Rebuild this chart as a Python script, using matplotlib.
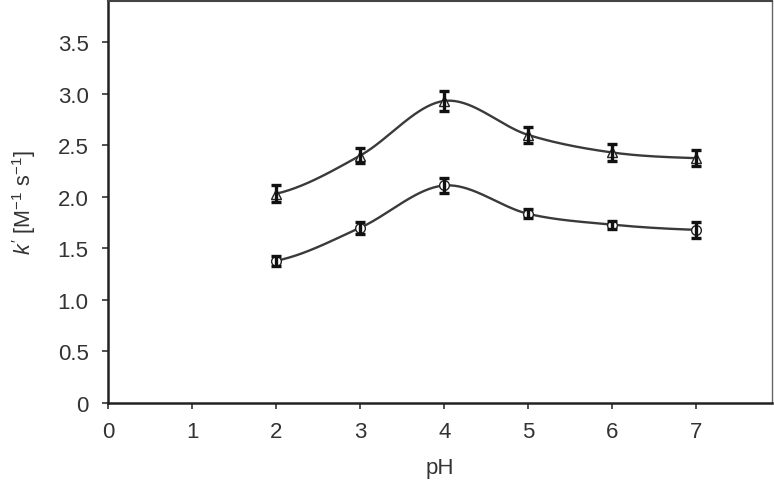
import numpy as np
import matplotlib
matplotlib.use("Agg")
import matplotlib.pyplot as plt

# data
ph = [2, 3, 4, 5, 6, 7]
k_triangle = [2.03, 2.40, 2.93, 2.60, 2.43, 2.375]
err_triangle = [0.085, 0.07, 0.095, 0.075, 0.08, 0.08]
k_circle = [1.38, 1.70, 2.11, 1.835, 1.73, 1.68]
err_circle = [0.05, 0.06, 0.07, 0.045, 0.04, 0.08]

x_ticks = [0, 1, 2, 3, 4, 5, 6, 7]
y_ticks = [0, 0.5, 1.0, 1.5, 2.0, 2.5, 3.0, 3.5]
y_ticklabels = ["0", "0.5", "1.0", "1.5", "2.0", "2.5", "3.0", "3.5"]


def smooth_line(x, y, n=40):
    # catmull-rom style smoothing (like a spreadsheet "smoothed line")
    x = np.asarray(x, float)
    y = np.asarray(y, float)
    m = len(x)
    t = np.zeros(m)
    for i in range(m):
        lo = max(i - 1, 0)
        hi = min(i + 1, m - 1)
        t[i] = (y[hi] - y[lo]) / 2.0
    xs_all, ys_all = [], []
    for i in range(m - 1):
        s = np.linspace(0, 1, n)
        h00 = 2 * s ** 3 - 3 * s ** 2 + 1
        h10 = s ** 3 - 2 * s ** 2 + s
        h01 = -2 * s ** 3 + 3 * s ** 2
        h11 = s ** 3 - s ** 2
        xs_all.append(x[i] + s * (x[i + 1] - x[i]))
        ys_all.append(h00 * y[i] + h10 * t[i] + h01 * y[i + 1] + h11 * t[i + 1])
    return np.concatenate(xs_all), np.concatenate(ys_all)


plt.rcParams["font.family"] = ["Liberation Sans", "DejaVu Sans"]
plt.rcParams["mathtext.fontset"] = "custom"
plt.rcParams["mathtext.rm"] = "Liberation Sans"
plt.rcParams["mathtext.it"] = "Liberation Sans:italic"

fig = plt.figure(figsize=(7.74, 4.81), dpi=100)
ax = fig.add_axes([0.1395, 0.160, 0.858, 0.836])

line_col = "#3a3a3a"
for k, err, mk in [(k_triangle, err_triangle, "^"), (k_circle, err_circle, "o")]:
    xs, ys = smooth_line(ph, k)
    ax.plot(xs, ys, color=line_col, lw=1.7, zorder=2)
    ax.plot(ph, k, linestyle="none", marker=mk, ms=7, mfc="white",
            mec="#222222", mew=1.0, zorder=3)
    ax.errorbar(ph, k, yerr=err, fmt="none", ecolor="#111111", elinewidth=2.4,
                capsize=3.8, capthick=2.4, zorder=4)

ax.set_xlim(0, 7.9)
ax.set_ylim(0, 3.9)
ax.set_xticks(x_ticks)
ax.set_yticks(y_ticks)
ax.set_yticklabels(y_ticklabels)
ax.tick_params(direction="out", length=4, width=1.2, labelsize=16,
               labelcolor="#333333", color="#333333")
ax.tick_params(axis="x", pad=9)
ax.tick_params(axis="y", pad=10)

ax.spines["left"].set_linewidth(1.8)
ax.spines["bottom"].set_linewidth(1.8)
ax.spines["left"].set_color("#222222")
ax.spines["bottom"].set_color("#222222")
ax.spines["top"].set_linewidth(1.5)
ax.spines["top"].set_color("#444444")
ax.spines["right"].set_linewidth(1.0)
ax.spines["right"].set_color("#666666")

ax.set_xlabel("pH", fontsize=16, color="#333333", labelpad=11)
ax.set_ylabel(r"$k'$ [M$^{-1}$ s$^{-1}$]", fontsize=15.5, color="#333333", labelpad=14)

fig.savefig("out.png", dpi=100)
